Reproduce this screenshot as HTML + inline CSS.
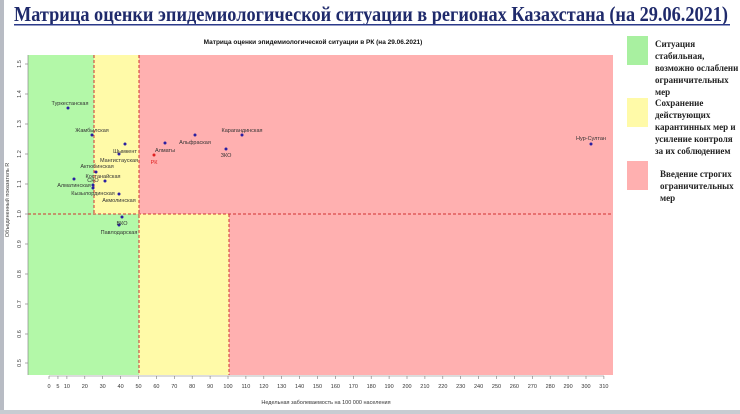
<!DOCTYPE html>
<html><head><meta charset="utf-8"><style>html,body{margin:0;padding:0;background:#fff}svg{display:block}</style></head><body>
<svg width="740" height="414" xmlns="http://www.w3.org/2000/svg">
<rect x="0" y="0" width="740" height="414" fill="#fff"/>
<rect x="0" y="0" width="4" height="414" fill="#b8bcc4"/>
<rect x="0" y="410" width="740" height="4" fill="#c8ccd2"/>
<text x="14" y="21" font-family="Liberation Serif, serif" font-weight="bold" font-size="21" fill="#1f2a6b" textLength="714" lengthAdjust="spacingAndGlyphs">Матрица оценки эпидемиологической ситуации в регионах Казахстана (на 29.06.2021)</text>
<rect x="14" y="24" width="716" height="1.5" fill="#2b3a8a"/>
<text x="313" y="44" text-anchor="middle" font-family="Liberation Sans, sans-serif" font-weight="bold" font-size="6.5" fill="#111">Матрица оценки эпидемиологической ситуации в РК (на 29.06.2021)</text>
<rect x="28" y="55" width="585" height="320" fill="#ffb0b0"/>
<rect x="28" y="55" width="66" height="320" fill="#b3f8a8"/>
<rect x="94" y="55" width="45" height="159" fill="#fffaa8"/>
<rect x="94" y="214" width="45" height="161" fill="#b3f8a8"/>
<rect x="139" y="214" width="90" height="161" fill="#fffaa8"/>
<g stroke="#d03030" stroke-width="1" stroke-dasharray="3,2" fill="none">
<line x1="94" y1="55" x2="94" y2="214"/>
<line x1="139" y1="55" x2="139" y2="375"/>
<line x1="229" y1="214" x2="229" y2="375"/>
<line x1="28" y1="214" x2="613" y2="214"/>
</g>
<g font-family="Liberation Sans, sans-serif" font-size="5.5" fill="#444">
<line x1="28" y1="55" x2="28" y2="375" stroke="#777" stroke-width="0.6"/>
<g stroke="#777" stroke-width="0.6">
<line x1="25" y1="64" x2="28" y2="64"/><line x1="25" y1="94" x2="28" y2="94"/><line x1="25" y1="124" x2="28" y2="124"/><line x1="25" y1="154" x2="28" y2="154"/><line x1="25" y1="184" x2="28" y2="184"/><line x1="25" y1="214" x2="28" y2="214"/><line x1="25" y1="244" x2="28" y2="244"/><line x1="25" y1="274" x2="28" y2="274"/><line x1="25" y1="304" x2="28" y2="304"/><line x1="25" y1="334" x2="28" y2="334"/><line x1="25" y1="363" x2="28" y2="363"/>
</g>
<text transform="translate(21,64) rotate(-90)" text-anchor="middle">1.5</text>
<text transform="translate(21,94) rotate(-90)" text-anchor="middle">1.4</text>
<text transform="translate(21,124) rotate(-90)" text-anchor="middle">1.3</text>
<text transform="translate(21,154) rotate(-90)" text-anchor="middle">1.2</text>
<text transform="translate(21,184) rotate(-90)" text-anchor="middle">1.1</text>
<text transform="translate(21,214) rotate(-90)" text-anchor="middle">1.0</text>
<text transform="translate(21,244) rotate(-90)" text-anchor="middle">0.9</text>
<text transform="translate(21,274) rotate(-90)" text-anchor="middle">0.8</text>
<text transform="translate(21,304) rotate(-90)" text-anchor="middle">0.7</text>
<text transform="translate(21,334) rotate(-90)" text-anchor="middle">0.6</text>
<text transform="translate(21,363) rotate(-90)" text-anchor="middle">0.5</text>
<text transform="translate(9,200) rotate(-90)" text-anchor="middle" font-size="5.5">Объединенный показатель R</text>
</g>
<g id="xaxis" font-family="Liberation Sans, sans-serif" font-size="5.5" fill="#333" text-anchor="middle">
<line x1="49" y1="376" x2="604" y2="376" stroke="#777" stroke-width="0.6"/>
</g>
<script>
(function(){var g=document.getElementById('xaxis');var ns='http://www.w3.org/2000/svg';
var v=[0,5,10];for(var i=20;i<=310;i+=10)v.push(i);
v.forEach(function(t){var x=49+1.79*t;var l=document.createElementNS(ns,'line');l.setAttribute('x1',x);l.setAttribute('x2',x);l.setAttribute('y1',376);l.setAttribute('y2',379);l.setAttribute('stroke','#777');l.setAttribute('stroke-width','0.6');g.appendChild(l);
var tx=document.createElementNS(ns,'text');tx.setAttribute('x',x);tx.setAttribute('y',388);tx.textContent=t;g.appendChild(tx);});})();
</script>
<text x="326" y="404" text-anchor="middle" font-family="Liberation Sans, sans-serif" font-size="5.5" fill="#333">Недельная заболеваемость на 100 000 населения</text>
<g fill="#2a1fa0">
<circle cx="68" cy="108" r="1.5"/><circle cx="92" cy="135" r="1.5"/><circle cx="125" cy="144" r="1.5"/><circle cx="119" cy="154" r="1.5"/><circle cx="96" cy="172" r="1.5"/><circle cx="105" cy="181" r="1.5"/><circle cx="74" cy="179" r="1.5"/><circle cx="93" cy="185" r="1.5"/><circle cx="93" cy="188" r="1.5"/><circle cx="119" cy="194" r="1.5"/><circle cx="122" cy="217" r="1.5"/><circle cx="119" cy="225" r="1.5"/>
<circle cx="165" cy="143" r="1.5"/><circle cx="195" cy="135" r="1.5"/><circle cx="242" cy="135" r="1.5"/><circle cx="226" cy="149" r="1.5"/><circle cx="591" cy="144" r="1.5"/>
</g>
<circle cx="154" cy="155" r="1.5" fill="#e02020"/>
<g font-family="Liberation Sans, sans-serif" font-size="5.5" fill="#333" text-anchor="middle">
<text x="70" y="105">Туркестанская</text>
<text x="92" y="132">Жамбылская</text>
<text x="125" y="153">Шымкент</text>
<text x="119" y="162">Мангистауская</text>
<text x="97" y="168">Актюбинская</text>
<text x="103" y="178">Костанайская</text>
<text x="93" y="182">СКО</text>
<text x="74" y="187">Алматинская</text>
<text x="93" y="195">Кызылординская</text>
<text x="119" y="202">Акмолинская</text>
<text x="122" y="225">ВКО</text>
<text x="119" y="234">Павлодарская</text>
<text x="165" y="152">Алматы</text>
<text x="195" y="144">Альфраская</text>
<text x="242" y="132">Карагандинская</text>
<text x="226" y="157">ЗКО</text>
<text x="591" y="140">Нур-Султан</text>
<text x="154" y="164" fill="#e02020">РК</text>
</g>
<rect x="627" y="36" width="21" height="29" fill="#a8f0a0"/>
<rect x="627" y="98" width="21" height="29" fill="#fffaa8"/>
<rect x="627" y="161" width="21" height="29" fill="#ffb0b0"/>
<g font-family="Liberation Serif, serif" font-weight="bold" font-size="9" fill="#222">
<text x="655" y="47">Ситуация</text>
<text x="655" y="59">стабильная,</text>
<text x="655" y="71">возможно ослаблени</text>
<text x="655" y="83">ограничительных</text>
<text x="655" y="95">мер</text>
<text x="655" y="106">Сохранение</text>
<text x="655" y="118">действующих</text>
<text x="655" y="130">карантинных мер и</text>
<text x="655" y="142">усиление контроля</text>
<text x="655" y="154">за их соблюдением</text>
<text x="660" y="177">Введение строгих</text>
<text x="660" y="189">ограничительных</text>
<text x="660" y="201">мер</text>
</g>
</svg>
</body></html>
